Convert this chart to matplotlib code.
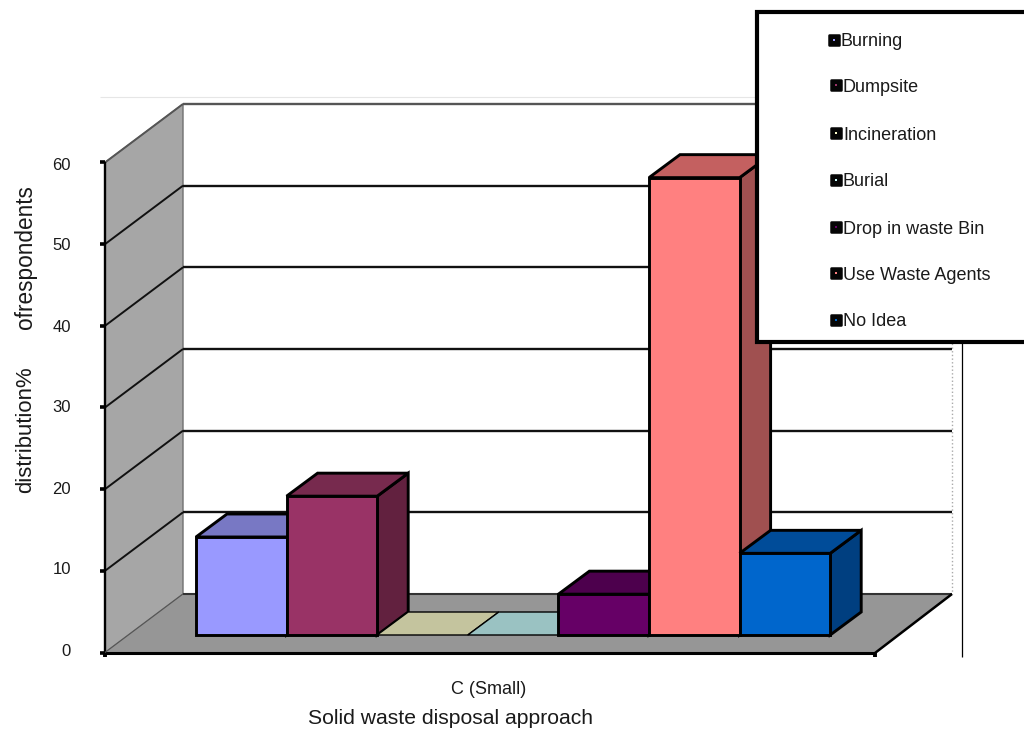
import matplotlib
matplotlib.use("Agg")
import matplotlib.pyplot as plt
from matplotlib.markers import MarkerStyle
from matplotlib.patches import Polygon, Rectangle

series = ["Burning", "Dumpsite", "Incineration", "Burial", "Drop in waste Bin", "Use Waste Agents", "No Idea"]
values = [12, 17, 0, 0, 5, 56, 10]
front_colors = ["#9999FF", "#993366", "#FFFFCC", "#CCFFFF", "#660066", "#FF8080", "#0066CC"]
top_colors = ["#7878C4", "#772A4E", "#C4C49E", "#9AC2C2", "#4D004D", "#C46060", "#004C99"]
side_colors = ["#62628F", "#62213F", "#8F8F73", "#739090", "#3D003D", "#A05050", "#003F80"]
y_ticks = [0, 10, 20, 30, 40, 50, 60]
category = "C (Small)"
xlabel = "Solid waste disposal approach"
ylabel_parts = ["distribution%", "ofrespondents"]

W, H = 1024, 731
PX_PER_UNIT = 8.167
BAR_PX = 90.6
BAR_LEFT = 196.0
BASE_Y = 635.0
DEPTH_X, DEPTH_Y = 31.0, -23.0

plt.rcParams["font.family"] = ["Liberation Sans", "DejaVu Sans"]
fig = plt.figure(figsize=(W / 100, H / 100), dpi=100)
ax = fig.add_axes([0, 0, 1, 1])
# x axis: one unit per bar slot; y axis: percent
ax.set_xlim((0 - BAR_LEFT) / BAR_PX, (W - BAR_LEFT) / BAR_PX)
ax.set_ylim((BASE_Y - H) / PX_PER_UNIT, BASE_Y / PX_PER_UNIT)
ax.axis("off")


def P(px, py):
    return ((px - BAR_LEFT) / BAR_PX, (BASE_Y - py) / PX_PER_UNIT)


def poly(pts, fc, ec="black", lw=1.0, z=1):
    ax.add_patch(Polygon([P(*p) for p in pts], closed=True, fc=fc, ec=ec, lw=lw, zorder=z, joinstyle="miter"))


def line(pts, color="black", lw=1.0, z=2, **kw):
    xy = [P(*p) for p in pts]
    ax.plot([a[0] for a in xy], [a[1] for a in xy], color=color, lw=lw, zorder=z, solid_capstyle="butt", **kw)


FX0, FX1, FY = 105, 875, 652.5
BX0, BX1, BY = 183, 952, 594
TOP_V = max(y_ticks)

# faint frame lines
line([(100, 96.5), (756, 96.5)], color="#E6E6E6", lw=0.8)
line([(962, 340), (962, 657)], color="black", lw=0.9)
# walls and floor
poly([(FX0, FY), (BX0, BY), (BX0, BY - TOP_V * PX_PER_UNIT), (FX0, FY - TOP_V * PX_PER_UNIT)], "#A6A6A6", ec="#707070", lw=1.0)
poly([(FX0, FY), (BX0, BY), (BX1, BY), (FX1, FY)], "#969696", ec="none", lw=0)
line([(BX1, BY - TOP_V * PX_PER_UNIT), (BX1, BY)], color="#AAAAAA", lw=1.0, linestyle=":")

# gridlines
for v in y_ticks:
    if v == 0:
        continue
    yb = BY - v * PX_PER_UNIT
    yf = FY - v * PX_PER_UNIT
    c = "#555555" if v == TOP_V else "#111111"
    line([(FX0, yf), (BX0, yb)], color=c, lw=1.4)
    line([(BX0, yb), (BX1, yb)], color=c, lw=1.7)
line([(BX0, BY), (BX1, BY)], color="#333333", lw=1.5)

# axes edges
line([(FX0, FY - TOP_V * PX_PER_UNIT), (FX0, FY)], lw=1.7, z=3)
line([(FX0, FY + 0.5), (FX1, FY + 0.5)], lw=2.2, z=3)
line([(FX1, FY + 0.5), (BX1, BY)], lw=1.8, z=3)
line([(FX0, FY), (BX0, BY)], color="#555555", lw=0.8, z=3)
for v in y_ticks:
    y = FY - v * PX_PER_UNIT
    line([(100, y), (FX0, y)], lw=2.6, z=3)
    ax.text(*P(71, 651 - v * 8.1), str(v), ha="right", va="center", fontsize=12, color="#1a1a1a")
line([(FX0, FY), (FX0, FY + 4)], lw=2.8, z=3)
line([(FX1, FY), (FX1, FY + 4)], lw=2.8, z=3)

# bars
dx_u = DEPTH_X / BAR_PX
dy_u = -DEPTH_Y / PX_PER_UNIT
for i, v in enumerate(values):
    z = 5 + i
    lw = 2.1 if v > 0 else 1.0
    if v > 0:
        ax.add_patch(Polygon([(i + 1, 0), (i + 1 + dx_u, dy_u), (i + 1 + dx_u, v + dy_u), (i + 1, v)],
                             closed=True, fc=side_colors[i], ec="black", lw=lw, zorder=z))
    ax.add_patch(Polygon([(i, v), (i + dx_u, v + dy_u), (i + 1 + dx_u, v + dy_u), (i + 1, v)],
                         closed=True, fc=top_colors[i], ec="black", lw=lw, zorder=z))
    if v > 0:
        ax.add_patch(Rectangle((i, 0), 1, v, fc=front_colors[i], ec="black", lw=lw, zorder=z))

# category and axis labels
ax.text(*P(489, 689.5), category, ha="center", va="center", fontsize=13, color="#1a1a1a")
ax.text(*P(451, 718), xlabel, ha="center", va="center", fontsize=15.2, color="#1a1a1a")
ax.text(*P(26, 430), ylabel_parts[0], rotation=90, ha="center", va="center", fontsize=15.9, color="#1a1a1a")
ax.text(*P(26, 257), ylabel_parts[1], rotation=90, ha="center", va="center", fontsize=16.3, color="#1a1a1a")

# legend box
ax.add_patch(Polygon([P(757, 12), P(1030, 12), P(1030, 342), P(757, 342)], closed=True,
                     fc="white", ec="black", lw=3.0, zorder=20))
leg_y = [41, 86, 134, 181, 228, 274, 321]
leg_mark_x = [834, 836, 836, 836, 836, 836, 836]
leg_text_x = [840, 843, 843, 843, 843, 843, 843]
ms_round = MarkerStyle("s", joinstyle="round")
for name, c, y, mx, tx in zip(series, front_colors, leg_y, leg_mark_x, leg_text_x):
    ax.plot(*P(mx, y - 1), marker=ms_round, ms=6.6, mfc="#050505", mec="#050505", mew=1.8, zorder=21)
    ax.plot(*P(mx, y - 1), marker="s", ms=1.8, mfc=c, mec=c, mew=0, zorder=22)
    ax.text(*P(tx, y + 1), name, ha="left", va="center", fontsize=13, color="#1a1a1a", zorder=22)

fig.savefig("out.png", dpi=100)
